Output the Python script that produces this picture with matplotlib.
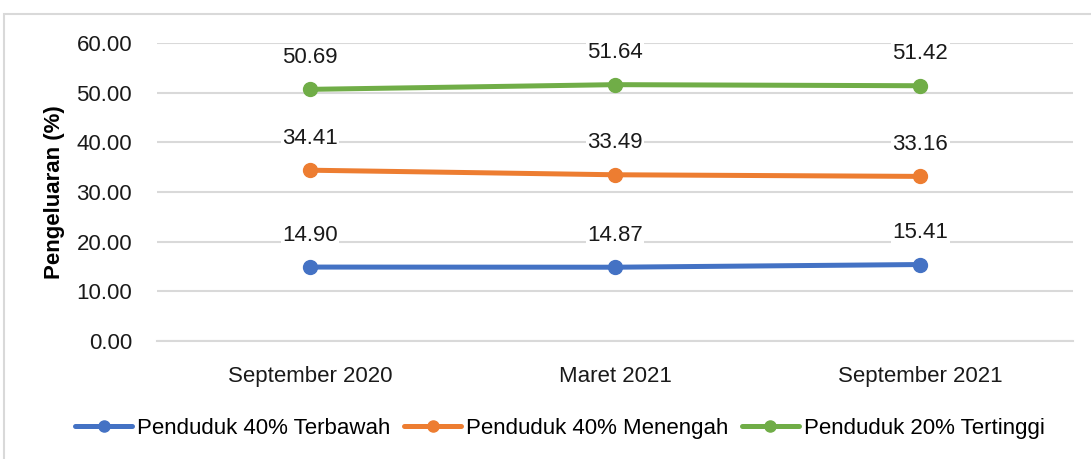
import matplotlib
matplotlib.use("Agg")
import matplotlib.pyplot as plt
from matplotlib.patches import Rectangle

# ---------- data ----------
periods = ["September 2020", "Maret 2021", "September 2021"]
bawah = [14.90, 14.87, 15.41]
menengah = [34.41, 33.49, 33.16]
tinggi = [50.69, 51.64, 51.42]
series_names = ["Penduduk 40% Terbawah", "Penduduk 40% Menengah", "Penduduk 20% Tertinggi"]
colors = ["#4472c4", "#ed7d31", "#70ad47"]

plt.rcParams['font.family'] = ['Liberation Sans', 'DejaVu Sans']
FS = 16

fig = plt.figure(figsize=(10.91, 4.59), dpi=100)
ax = fig.add_axes([0.144, 0.257, 0.8395, 0.649])

# outer chart border
fig.patches.append(Rectangle((0.004, -0.05), 1.2, 1.02, transform=fig.transFigure,
                             fill=False, edgecolor="#d9d9d9", linewidth=1.5))

x = range(len(periods))
for vals, name, c in zip([bawah, menengah, tinggi], series_names, colors):
    ax.plot(x, vals, color=c, linewidth=3.6, marker="o", markersize=10,
            solid_capstyle="round", label=name)
    for xi, v in zip(x, vals):
        ax.annotate(f"{v:.2f}", (xi, v), xytext=(0, 23), textcoords="offset points",
                    ha="center", va="center", fontsize=FS, color="#1a1a1a",
                    bbox=dict(facecolor="white", edgecolor="none", pad=1))

ax.set_xlim(-0.5, 2.5)
ax.set_ylim(0, 60)
ax.set_yticks(range(0, 61, 10))
ax.set_yticklabels([f"{t:.2f}" for t in range(0, 61, 10)])
ax.set_xticks(list(x))
ax.set_xticklabels(periods)
ax.tick_params(axis="both", length=0, labelsize=FS, colors="#1a1a1a")
ax.tick_params(axis="y", pad=18)
ax.tick_params(axis="x", pad=18)
ax.grid(axis="y", color="#d9d9d9", linewidth=1.5)
ax.set_axisbelow(True)
for s in ["top", "right", "left"]:
    ax.spines[s].set_visible(False)
ax.spines["bottom"].set_color("#d9d9d9")
ax.spines["bottom"].set_linewidth(1.5)

ax.set_ylabel("Pengeluaran (%)", fontsize=FS, fontweight="bold", labelpad=8)

fig.legend(loc="center", bbox_to_anchor=(0.513, 0.066), ncol=3, frameon=False,
           fontsize=FS, handlelength=2.6, columnspacing=0.6, handletextpad=0.2,
           markerscale=0.8)

fig.savefig("out.png", dpi=100)
